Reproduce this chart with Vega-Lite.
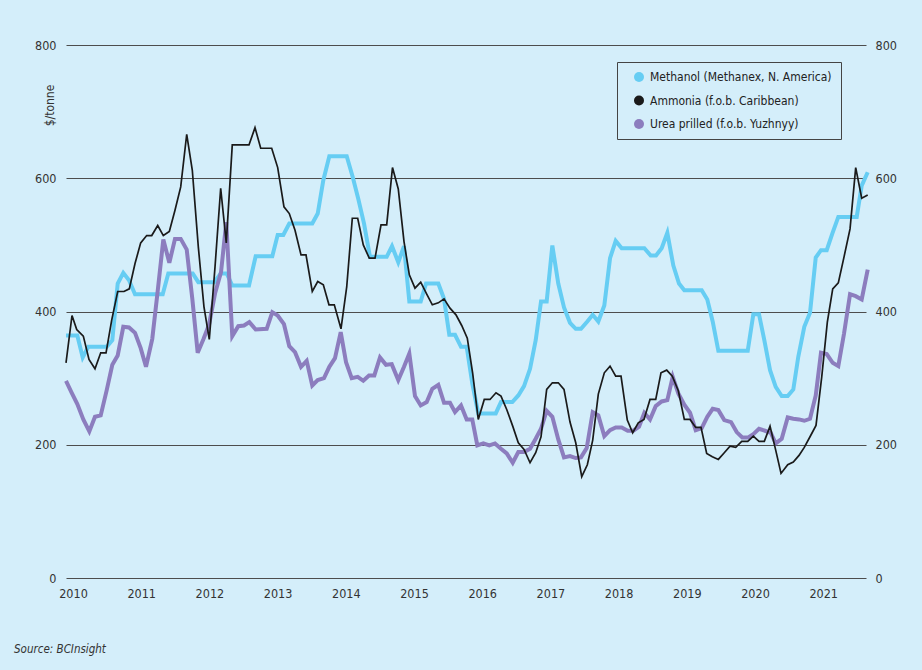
{
  "$schema": "https://vega.github.io/schema/vega-lite/v6.json",
  "autosize": "none",
  "width": 800,
  "height": 533,
  "padding": {"left": 66, "top": 45, "right": 56, "bottom": 92},
  "background": "#d4eefa",
  "config": {
    "view": {"stroke": null},
    "font": "DejaVu Sans Condensed, Roboto, sans-serif"
  },
  "title": {
    "text": "Source: BCInsight",
    "orient": "bottom",
    "anchor": "start",
    "frame": "group",
    "dx": -52,
    "offset": 44,
    "font": "DejaVu Sans Condensed, Roboto, sans-serif",
    "fontSize": 11.5,
    "fontStyle": "italic",
    "fontWeight": "normal",
    "color": "#333333"
  },
  "datasets": {
    "methanol": [
      {"t": 2010.000, "v": 364}, {"t": 2010.166, "v": 364}, {"t": 2010.245, "v": 331}, {"t": 2010.327, "v": 347},
      {"t": 2010.597, "v": 347}, {"t": 2010.679, "v": 357}, {"t": 2010.758, "v": 442}, {"t": 2010.840, "v": 458},
      {"t": 2010.924, "v": 447}, {"t": 2011.012, "v": 426}, {"t": 2011.418, "v": 426}, {"t": 2011.500, "v": 457},
      {"t": 2011.858, "v": 457}, {"t": 2011.940, "v": 444}, {"t": 2012.174, "v": 444}, {"t": 2012.268, "v": 457},
      {"t": 2012.356, "v": 457}, {"t": 2012.438, "v": 439}, {"t": 2012.683, "v": 439}, {"t": 2012.781, "v": 483},
      {"t": 2013.025, "v": 483}, {"t": 2013.104, "v": 515}, {"t": 2013.186, "v": 515}, {"t": 2013.274, "v": 532},
      {"t": 2013.611, "v": 532}, {"t": 2013.691, "v": 547}, {"t": 2013.773, "v": 597}, {"t": 2013.861, "v": 633},
      {"t": 2014.116, "v": 633}, {"t": 2014.204, "v": 602}, {"t": 2014.286, "v": 569}, {"t": 2014.370, "v": 532},
      {"t": 2014.457, "v": 482}, {"t": 2014.702, "v": 482}, {"t": 2014.780, "v": 498}, {"t": 2014.872, "v": 474},
      {"t": 2014.956, "v": 498}, {"t": 2015.034, "v": 415}, {"t": 2015.201, "v": 415}, {"t": 2015.279, "v": 442},
      {"t": 2015.459, "v": 442}, {"t": 2015.543, "v": 419}, {"t": 2015.620, "v": 365}, {"t": 2015.704, "v": 365},
      {"t": 2015.792, "v": 347}, {"t": 2015.875, "v": 347}, {"t": 2015.957, "v": 292}, {"t": 2016.045, "v": 247},
      {"t": 2016.301, "v": 247}, {"t": 2016.378, "v": 264}, {"t": 2016.544, "v": 264}, {"t": 2016.632, "v": 274},
      {"t": 2016.716, "v": 288}, {"t": 2016.804, "v": 314}, {"t": 2016.887, "v": 357}, {"t": 2016.965, "v": 415},
      {"t": 2017.048, "v": 415}, {"t": 2017.131, "v": 499}, {"t": 2017.218, "v": 442}, {"t": 2017.302, "v": 406},
      {"t": 2017.390, "v": 383}, {"t": 2017.474, "v": 374}, {"t": 2017.551, "v": 374}, {"t": 2017.644, "v": 385},
      {"t": 2017.723, "v": 395}, {"t": 2017.805, "v": 385}, {"t": 2017.893, "v": 409}, {"t": 2017.977, "v": 480},
      {"t": 2018.060, "v": 506}, {"t": 2018.148, "v": 495}, {"t": 2018.480, "v": 495}, {"t": 2018.573, "v": 484},
      {"t": 2018.651, "v": 484}, {"t": 2018.734, "v": 495}, {"t": 2018.817, "v": 518}, {"t": 2018.905, "v": 469},
      {"t": 2018.988, "v": 442}, {"t": 2019.066, "v": 432}, {"t": 2019.321, "v": 432}, {"t": 2019.403, "v": 418},
      {"t": 2019.482, "v": 385}, {"t": 2019.565, "v": 341}, {"t": 2019.996, "v": 341}, {"t": 2020.078, "v": 396},
      {"t": 2020.161, "v": 396}, {"t": 2020.239, "v": 357}, {"t": 2020.323, "v": 312}, {"t": 2020.406, "v": 287},
      {"t": 2020.494, "v": 273}, {"t": 2020.582, "v": 273}, {"t": 2020.664, "v": 283}, {"t": 2020.737, "v": 332},
      {"t": 2020.825, "v": 377}, {"t": 2020.909, "v": 398}, {"t": 2020.993, "v": 481}, {"t": 2021.070, "v": 492},
      {"t": 2021.154, "v": 492}, {"t": 2021.236, "v": 517}, {"t": 2021.324, "v": 542}, {"t": 2021.594, "v": 542},
      {"t": 2021.667, "v": 589}, {"t": 2021.755, "v": 609}
    ],
    "ammonia": [
      {"t": 2010.000, "v": 323}, {"t": 2010.088, "v": 394}, {"t": 2010.157, "v": 373}, {"t": 2010.254, "v": 363},
      {"t": 2010.337, "v": 328}, {"t": 2010.425, "v": 314}, {"t": 2010.509, "v": 338}, {"t": 2010.587, "v": 338},
      {"t": 2010.670, "v": 387}, {"t": 2010.758, "v": 430}, {"t": 2010.850, "v": 430}, {"t": 2010.928, "v": 434},
      {"t": 2011.012, "v": 472}, {"t": 2011.095, "v": 503}, {"t": 2011.183, "v": 514}, {"t": 2011.257, "v": 514},
      {"t": 2011.345, "v": 529}, {"t": 2011.427, "v": 514}, {"t": 2011.515, "v": 520}, {"t": 2011.598, "v": 552},
      {"t": 2011.682, "v": 587}, {"t": 2011.770, "v": 666}, {"t": 2011.852, "v": 612}, {"t": 2011.940, "v": 497},
      {"t": 2012.023, "v": 407}, {"t": 2012.101, "v": 358}, {"t": 2012.185, "v": 467}, {"t": 2012.268, "v": 585},
      {"t": 2012.350, "v": 503}, {"t": 2012.438, "v": 650}, {"t": 2012.683, "v": 650}, {"t": 2012.771, "v": 676},
      {"t": 2012.855, "v": 645}, {"t": 2013.016, "v": 645}, {"t": 2013.104, "v": 616}, {"t": 2013.196, "v": 557},
      {"t": 2013.274, "v": 547}, {"t": 2013.358, "v": 522}, {"t": 2013.446, "v": 485}, {"t": 2013.519, "v": 485},
      {"t": 2013.611, "v": 430}, {"t": 2013.691, "v": 445}, {"t": 2013.773, "v": 440}, {"t": 2013.856, "v": 410},
      {"t": 2013.934, "v": 410}, {"t": 2014.032, "v": 374}, {"t": 2014.116, "v": 437}, {"t": 2014.198, "v": 540},
      {"t": 2014.277, "v": 540}, {"t": 2014.359, "v": 500}, {"t": 2014.447, "v": 480}, {"t": 2014.531, "v": 480},
      {"t": 2014.619, "v": 530}, {"t": 2014.702, "v": 530}, {"t": 2014.787, "v": 616}, {"t": 2014.872, "v": 584},
      {"t": 2014.956, "v": 505}, {"t": 2015.034, "v": 455}, {"t": 2015.117, "v": 435}, {"t": 2015.201, "v": 444},
      {"t": 2015.289, "v": 426}, {"t": 2015.371, "v": 410}, {"t": 2015.459, "v": 413}, {"t": 2015.543, "v": 419},
      {"t": 2015.630, "v": 405}, {"t": 2015.718, "v": 395}, {"t": 2015.802, "v": 379}, {"t": 2015.884, "v": 360},
      {"t": 2015.963, "v": 307}, {"t": 2016.045, "v": 238}, {"t": 2016.133, "v": 268}, {"t": 2016.217, "v": 268},
      {"t": 2016.305, "v": 278}, {"t": 2016.378, "v": 273}, {"t": 2016.462, "v": 253}, {"t": 2016.550, "v": 228},
      {"t": 2016.632, "v": 203}, {"t": 2016.716, "v": 193}, {"t": 2016.804, "v": 173}, {"t": 2016.887, "v": 188},
      {"t": 2016.965, "v": 212}, {"t": 2017.048, "v": 283}, {"t": 2017.131, "v": 293}, {"t": 2017.218, "v": 293},
      {"t": 2017.302, "v": 283}, {"t": 2017.390, "v": 234}, {"t": 2017.474, "v": 203}, {"t": 2017.562, "v": 152},
      {"t": 2017.644, "v": 170}, {"t": 2017.723, "v": 207}, {"t": 2017.805, "v": 276}, {"t": 2017.893, "v": 308},
      {"t": 2017.977, "v": 318}, {"t": 2018.060, "v": 303}, {"t": 2018.138, "v": 303}, {"t": 2018.230, "v": 237},
      {"t": 2018.309, "v": 218}, {"t": 2018.391, "v": 233}, {"t": 2018.475, "v": 238}, {"t": 2018.563, "v": 268},
      {"t": 2018.647, "v": 268}, {"t": 2018.724, "v": 308}, {"t": 2018.808, "v": 312}, {"t": 2018.890, "v": 303},
      {"t": 2018.978, "v": 281}, {"t": 2019.066, "v": 238}, {"t": 2019.150, "v": 238}, {"t": 2019.233, "v": 226},
      {"t": 2019.311, "v": 226}, {"t": 2019.394, "v": 187}, {"t": 2019.477, "v": 182}, {"t": 2019.565, "v": 178},
      {"t": 2019.652, "v": 188}, {"t": 2019.736, "v": 198}, {"t": 2019.820, "v": 196}, {"t": 2019.908, "v": 205},
      {"t": 2019.996, "v": 205}, {"t": 2020.078, "v": 213}, {"t": 2020.161, "v": 205}, {"t": 2020.239, "v": 205},
      {"t": 2020.323, "v": 228}, {"t": 2020.406, "v": 192}, {"t": 2020.484, "v": 157}, {"t": 2020.582, "v": 170},
      {"t": 2020.664, "v": 174}, {"t": 2020.748, "v": 184}, {"t": 2020.825, "v": 196}, {"t": 2020.909, "v": 212},
      {"t": 2020.997, "v": 229}, {"t": 2021.081, "v": 302}, {"t": 2021.163, "v": 384}, {"t": 2021.242, "v": 434},
      {"t": 2021.324, "v": 443}, {"t": 2021.408, "v": 482}, {"t": 2021.496, "v": 524}, {"t": 2021.579, "v": 616},
      {"t": 2021.667, "v": 570}, {"t": 2021.755, "v": 575}
    ],
    "urea": [
      {"t": 2010.000, "v": 296}, {"t": 2010.084, "v": 278}, {"t": 2010.166, "v": 261}, {"t": 2010.254, "v": 238},
      {"t": 2010.342, "v": 220}, {"t": 2010.425, "v": 242}, {"t": 2010.509, "v": 244}, {"t": 2010.597, "v": 282},
      {"t": 2010.679, "v": 320}, {"t": 2010.758, "v": 334}, {"t": 2010.840, "v": 377}, {"t": 2010.924, "v": 376},
      {"t": 2011.012, "v": 368}, {"t": 2011.095, "v": 345}, {"t": 2011.173, "v": 317}, {"t": 2011.265, "v": 359},
      {"t": 2011.345, "v": 431}, {"t": 2011.427, "v": 508}, {"t": 2011.515, "v": 473}, {"t": 2011.598, "v": 509},
      {"t": 2011.682, "v": 509}, {"t": 2011.770, "v": 493}, {"t": 2011.852, "v": 419}, {"t": 2011.931, "v": 338},
      {"t": 2012.013, "v": 358}, {"t": 2012.097, "v": 380}, {"t": 2012.185, "v": 427}, {"t": 2012.273, "v": 459},
      {"t": 2012.350, "v": 534}, {"t": 2012.438, "v": 363}, {"t": 2012.526, "v": 378}, {"t": 2012.610, "v": 379},
      {"t": 2012.688, "v": 384}, {"t": 2012.781, "v": 373}, {"t": 2012.943, "v": 374}, {"t": 2013.025, "v": 399},
      {"t": 2013.104, "v": 394}, {"t": 2013.196, "v": 381}, {"t": 2013.274, "v": 348}, {"t": 2013.358, "v": 339},
      {"t": 2013.446, "v": 317}, {"t": 2013.529, "v": 326}, {"t": 2013.611, "v": 289}, {"t": 2013.691, "v": 297},
      {"t": 2013.783, "v": 300}, {"t": 2013.861, "v": 317}, {"t": 2013.944, "v": 330}, {"t": 2014.028, "v": 369},
      {"t": 2014.106, "v": 324}, {"t": 2014.189, "v": 300}, {"t": 2014.277, "v": 302}, {"t": 2014.359, "v": 296},
      {"t": 2014.443, "v": 304}, {"t": 2014.521, "v": 304}, {"t": 2014.604, "v": 331}, {"t": 2014.692, "v": 320},
      {"t": 2014.776, "v": 321}, {"t": 2014.872, "v": 297}, {"t": 2014.956, "v": 317}, {"t": 2015.034, "v": 337},
      {"t": 2015.117, "v": 273}, {"t": 2015.201, "v": 259}, {"t": 2015.289, "v": 264}, {"t": 2015.371, "v": 284},
      {"t": 2015.459, "v": 290}, {"t": 2015.543, "v": 263}, {"t": 2015.630, "v": 263}, {"t": 2015.704, "v": 249},
      {"t": 2015.792, "v": 259}, {"t": 2015.875, "v": 238}, {"t": 2015.957, "v": 238}, {"t": 2016.031, "v": 199},
      {"t": 2016.119, "v": 202}, {"t": 2016.207, "v": 199}, {"t": 2016.290, "v": 202}, {"t": 2016.378, "v": 194},
      {"t": 2016.462, "v": 187}, {"t": 2016.550, "v": 173}, {"t": 2016.632, "v": 189}, {"t": 2016.716, "v": 189},
      {"t": 2016.804, "v": 194}, {"t": 2016.887, "v": 209}, {"t": 2016.965, "v": 224}, {"t": 2017.048, "v": 251},
      {"t": 2017.131, "v": 242}, {"t": 2017.218, "v": 208}, {"t": 2017.302, "v": 181}, {"t": 2017.390, "v": 183},
      {"t": 2017.474, "v": 180}, {"t": 2017.551, "v": 181}, {"t": 2017.635, "v": 195}, {"t": 2017.723, "v": 249},
      {"t": 2017.805, "v": 244}, {"t": 2017.893, "v": 213}, {"t": 2017.977, "v": 222}, {"t": 2018.060, "v": 226},
      {"t": 2018.148, "v": 226}, {"t": 2018.236, "v": 221}, {"t": 2018.318, "v": 221}, {"t": 2018.402, "v": 227},
      {"t": 2018.480, "v": 248}, {"t": 2018.563, "v": 238}, {"t": 2018.647, "v": 258}, {"t": 2018.734, "v": 265},
      {"t": 2018.817, "v": 267}, {"t": 2018.896, "v": 302}, {"t": 2018.978, "v": 277}, {"t": 2019.066, "v": 260},
      {"t": 2019.150, "v": 248}, {"t": 2019.233, "v": 222}, {"t": 2019.321, "v": 225}, {"t": 2019.403, "v": 242},
      {"t": 2019.482, "v": 254}, {"t": 2019.565, "v": 252}, {"t": 2019.652, "v": 237}, {"t": 2019.751, "v": 234},
      {"t": 2019.834, "v": 219}, {"t": 2019.916, "v": 211}, {"t": 2020.004, "v": 211}, {"t": 2020.078, "v": 216},
      {"t": 2020.161, "v": 224}, {"t": 2020.249, "v": 221}, {"t": 2020.333, "v": 218}, {"t": 2020.406, "v": 202},
      {"t": 2020.494, "v": 209}, {"t": 2020.582, "v": 241}, {"t": 2020.664, "v": 239}, {"t": 2020.748, "v": 238},
      {"t": 2020.825, "v": 236}, {"t": 2020.909, "v": 239}, {"t": 2020.993, "v": 274}, {"t": 2021.070, "v": 338},
      {"t": 2021.154, "v": 336}, {"t": 2021.242, "v": 323}, {"t": 2021.324, "v": 318}, {"t": 2021.408, "v": 367},
      {"t": 2021.496, "v": 426}, {"t": 2021.579, "v": 423}, {"t": 2021.667, "v": 418}, {"t": 2021.755, "v": 463}
    ]
  },
  "encoding": {
    "x": {
      "field": "t",
      "type": "quantitative",
      "scale": {"domain": [2010, 2021.73], "nice": false, "zero": false},
      "axis": {
        "values": [2010, 2011, 2012, 2013, 2014, 2015, 2016, 2017, 2018, 2019, 2020, 2021],
        "format": "d",
        "title": null,
        "grid": false,
        "domain": false,
        "ticks": false,
        "labelPadding": 9,
        "labelOffset": 7,
        "labelFontSize": 12.5,
        "labelColor": "#333333",
        "labelFlush": false
      }
    }
  },
  "layer": [
    {
      "data": {"name": "methanol"},
      "transform": [{"calculate": "'Methanol (Methanex, N. America)'", "as": "series"}],
      "mark": {"type": "line", "strokeWidth": 4, "clip": false},
      "encoding": {
        "y": {
          "field": "v",
          "type": "quantitative",
          "scale": {"domain": [0, 800], "nice": false},
          "axis": {
            "orient": "left",
            "values": [0, 200, 400, 600, 800],
            "grid": true,
            "gridColor": "#4d4d4d",
            "gridWidth": 1,
            "gridOpacity": 1,
            "domain": false,
            "ticks": false,
            "labelPadding": 10,
            "labelFontSize": 12.5,
            "labelColor": "#333333",
            "title": "$/tonne",
            "titleFontSize": 12,
            "titleFontWeight": "normal",
            "titleColor": "#333333",
            "titleAngle": -90,
            "titleX": -17,
            "titleY": 60,
            "titleAlign": "center",
            "titleBaseline": "middle"
          }
        },
        "color": {
          "field": "series",
          "type": "nominal",
          "scale": {
            "domain": ["Methanol (Methanex, N. America)", "Ammonia (f.o.b. Caribbean)", "Urea prilled (f.o.b. Yuzhnyy)"],
            "range": ["#66cdf3", "#1a1a1a", "#8c7dbe"]
          },
          "legend": {
            "title": null,
            "orient": "none",
            "legendX": 551,
            "legendY": 17,
            "strokeColor": "#444444",
            "padding": 9,
            "symbolType": "circle",
            "symbolSize": 100,
            "symbolStrokeWidth": 0,
            "symbolOffset": 7,
            "labelOffset": 5,
            "rowPadding": 11.5,
            "labelFontSize": 12,
            "labelColor": "#222222",
            "labelLimit": 400,
            "encode": {
              "symbols": {"update": {"fill": {"scale": "color", "field": "value"}, "fillOpacity": {"value": 1}}}
            }
          }
        }
      }
    },
    {
      "data": {"name": "urea"},
      "transform": [{"calculate": "'Urea prilled (f.o.b. Yuzhnyy)'", "as": "series"}],
      "mark": {"type": "line", "strokeWidth": 4, "clip": false},
      "encoding": {
        "y": {
          "field": "v",
          "type": "quantitative",
          "scale": {"domain": [0, 800], "nice": false},
          "axis": {
            "orient": "right",
            "values": [0, 200, 400, 600, 800],
            "grid": false,
            "domain": false,
            "ticks": false,
            "labelPadding": 9,
            "labelFontSize": 12.5,
            "labelColor": "#333333",
            "title": null
          }
        },
        "color": {"field": "series", "type": "nominal"}
      }
    },
    {
      "data": {"name": "ammonia"},
      "transform": [{"calculate": "'Ammonia (f.o.b. Caribbean)'", "as": "series"}],
      "mark": {"type": "line", "strokeWidth": 1.7, "clip": false},
      "encoding": {
        "y": {"field": "v", "type": "quantitative", "scale": {"domain": [0, 800], "nice": false}, "axis": null},
        "color": {"field": "series", "type": "nominal"}
      }
    }
  ],
  "resolve": {"axis": {"y": "independent"}}
}
